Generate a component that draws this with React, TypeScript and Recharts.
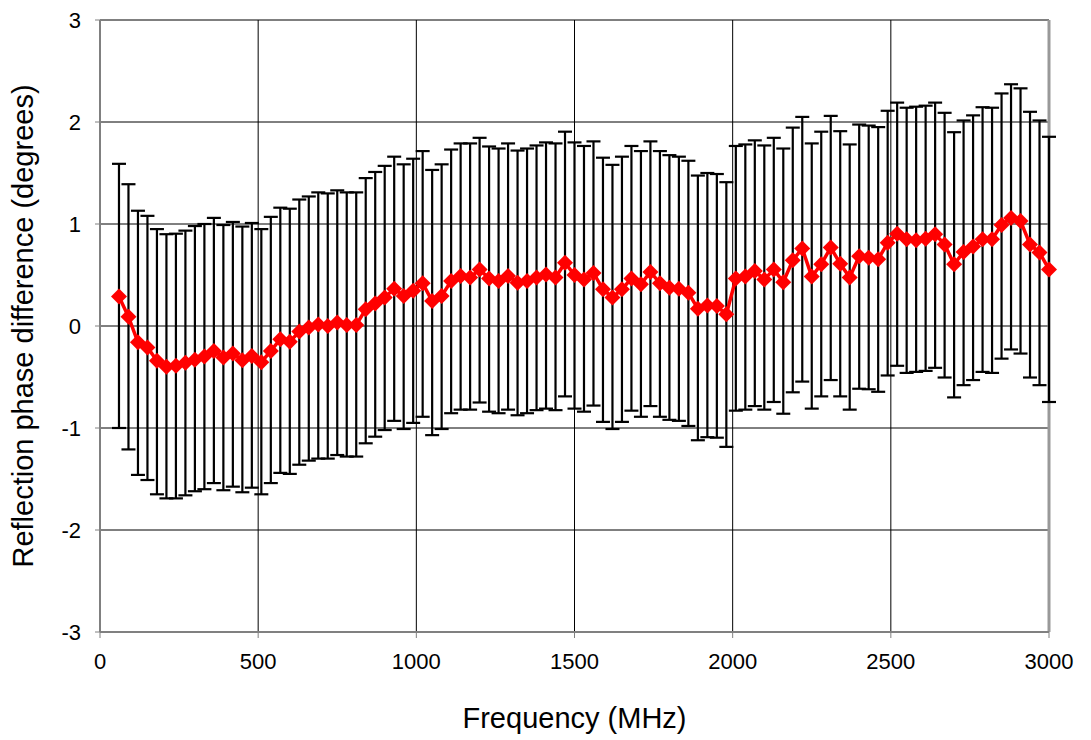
import React from 'react';
import {
  ComposedChart, Line, ErrorBar, XAxis, YAxis, CartesianGrid, ReferenceLine
} from 'recharts';

// Sweep frequencies (MHz)
const freqs = [
  60, 90, 120, 150, 180, 210, 240, 270, 300, 330,
  360, 390, 420, 450, 480, 510, 540, 570, 600, 630,
  660, 690, 720, 750, 780, 810, 840, 870, 900, 930,
  960, 990, 1020, 1050, 1080, 1110, 1140, 1170, 1200, 1230,
  1260, 1290, 1320, 1350, 1380, 1410, 1440, 1470, 1500, 1530,
  1560, 1590, 1620, 1650, 1680, 1710, 1740, 1770, 1800, 1830,
  1860, 1890, 1920, 1950, 1980, 2010, 2040, 2070, 2100, 2130,
  2160, 2190, 2220, 2250, 2280, 2310, 2340, 2370, 2400, 2430,
  2460, 2490, 2520, 2550, 2580, 2610, 2640, 2670, 2700, 2730,
  2760, 2790, 2820, 2850, 2880, 2910, 2940, 2970, 3000,
];

// Mean phase difference (degrees)
const means = [
  0.29, 0.09, -0.16, -0.21, -0.34, -0.40, -0.39, -0.36, -0.33, -0.30,
  -0.245, -0.31, -0.27, -0.335, -0.295, -0.355, -0.245, -0.13, -0.155, -0.055,
  -0.015, 0.015, 0.0, 0.035, 0.01, 0.01, 0.165, 0.22, 0.28, 0.365,
  0.295, 0.345, 0.42, 0.245, 0.295, 0.44, 0.49, 0.475, 0.555, 0.465,
  0.44, 0.49, 0.425, 0.44, 0.475, 0.505, 0.475, 0.62, 0.50, 0.455,
  0.52, 0.36, 0.28, 0.36, 0.465, 0.41, 0.53, 0.42, 0.375, 0.365,
  0.325, 0.17, 0.20, 0.195, 0.115, 0.465, 0.485, 0.54, 0.455, 0.555,
  0.43, 0.645, 0.76, 0.485, 0.605, 0.77, 0.61, 0.475, 0.685, 0.67,
  0.655, 0.815, 0.905, 0.85, 0.84, 0.855, 0.90, 0.80, 0.605, 0.725,
  0.78, 0.85, 0.85, 0.99, 1.06, 1.03, 0.80, 0.72, 0.555,
];

// Upper end of each error bar
const upper = [
  1.59, 1.39, 1.13, 1.08, 0.95, 0.90, 0.905, 0.935, 0.98, 1.00,
  1.06, 0.99, 1.02, 0.975, 1.01, 0.95, 1.07, 1.16, 1.15, 1.24,
  1.27, 1.31, 1.30, 1.33, 1.31, 1.31, 1.45, 1.51, 1.57, 1.66,
  1.585, 1.64, 1.715, 1.53, 1.585, 1.73, 1.79, 1.79, 1.845, 1.76,
  1.74, 1.79, 1.72, 1.74, 1.77, 1.80, 1.79, 1.905, 1.80, 1.765,
  1.81, 1.65, 1.58, 1.66, 1.765, 1.715, 1.81, 1.715, 1.675, 1.66,
  1.62, 1.475, 1.50, 1.49, 1.41, 1.765, 1.78, 1.82, 1.77, 1.845,
  1.74, 1.945, 2.05, 1.79, 1.905, 2.06, 1.91, 1.78, 1.975, 1.965,
  1.95, 2.11, 2.19, 2.14, 2.15, 2.16, 2.19, 2.09, 1.90, 2.015,
  2.065, 2.145, 2.14, 2.28, 2.37, 2.33, 2.10, 2.015, 1.855,
];

// Lower end of each error bar
const lower = [
  -1.00, -1.21, -1.46, -1.51, -1.65, -1.69, -1.69, -1.66, -1.62, -1.60,
  -1.54, -1.61, -1.575, -1.63, -1.585, -1.65, -1.54, -1.44, -1.45, -1.36,
  -1.32, -1.30, -1.30, -1.265, -1.28, -1.28, -1.15, -1.085, -1.02, -0.93,
  -1.01, -0.95, -0.89, -1.07, -1.01, -0.855, -0.82, -0.82, -0.75, -0.84,
  -0.855, -0.82, -0.875, -0.855, -0.825, -0.81, -0.825, -0.69, -0.81, -0.84,
  -0.78, -0.94, -1.01, -0.94, -0.83, -0.89, -0.785, -0.89, -0.92, -0.93,
  -0.98, -1.12, -1.09, -1.095, -1.185, -0.83, -0.82, -0.785, -0.82, -0.745,
  -0.86, -0.65, -0.545, -0.81, -0.69, -0.53, -0.69, -0.82, -0.615, -0.62,
  -0.645, -0.485, -0.39, -0.46, -0.45, -0.44, -0.41, -0.505, -0.70, -0.58,
  -0.53, -0.45, -0.46, -0.32, -0.23, -0.27, -0.505, -0.58, -0.745,
];

const xTicks = [0, 500, 1000, 1500, 2000, 2500, 3000];
const yTicks = [-3, -2, -1, 0, 1, 2, 3];

const FONT = '"Liberation Sans", Arial, sans-serif';
const RED = '#ff0000';

const data = freqs.map((f, i) => ({
  f,
  mean: means[i],
  err: [means[i] - lower[i], upper[i] - means[i]],
}));

function Diamond(props: any) {
  const { cx, cy } = props;
  if (cx == null || cy == null) return null;
  const r = 8;
  return (
    <path
      d={`M${cx},${cy - r}L${cx + r},${cy}L${cx},${cy + r}L${cx - r},${cy}Z`}
      fill={RED}
    />
  );
}

export default function App() {
  return (
    <div style={{ position: 'absolute', left: 0, top: 0, background: '#fff', fontFamily: FONT }}>
      <ComposedChart
        width={1091}
        height={740}
        data={data}
        margin={{ top: 20, right: 42, bottom: 0, left: 0 }}
      >
        <CartesianGrid stroke="#000" strokeWidth={1} />
        <XAxis
          dataKey="f"
          type="number"
          domain={[0, 3000]}
          ticks={xTicks}
          height={108}
          tickSize={6}
          tickMargin={15}
          axisLine={{ stroke: '#808080', strokeWidth: 2 }}
          tickLine={{ stroke: '#808080' }}
          tick={{ fill: '#000', fontSize: 22, fontFamily: FONT }}
          label={{
            value: 'Frequency (MHz)',
            position: 'insideBottom',
            offset: 12,
            style: { fill: '#000', fontSize: 29, fontFamily: FONT },
          }}
        />
        <YAxis
          type="number"
          domain={[-3, 3]}
          ticks={yTicks}
          width={100}
          tickSize={5}
          tickMargin={14}
          axisLine={{ stroke: '#808080', strokeWidth: 2 }}
          tickLine={{ stroke: '#808080' }}
          tick={{ fill: '#000', fontSize: 22, fontFamily: FONT }}
          label={{
            value: 'Reflection phase difference (degrees)',
            angle: -90,
            position: 'insideLeft',
            offset: 23,
            style: { fill: '#000', fontSize: 29, fontFamily: FONT, textAnchor: 'middle' },
          }}
        />
        <ReferenceLine x={3000} stroke="#999999" strokeWidth={3} />
        {/* error bars sit under the red trace */}
        <Line
          dataKey="mean"
          stroke="none"
          dot={false}
          activeDot={false}
          isAnimationActive={false}
        >
          <ErrorBar
            dataKey="err"
            direction="y"
            width={7}
            stroke="#000"
            strokeWidth={2.2}
            isAnimationActive={false}
          />
        </Line>
        <Line
          dataKey="mean"
          type="linear"
          stroke={RED}
          strokeWidth={3.5}
          dot={(p: any) => <Diamond key={`d-${p.index}`} {...p} />}
          activeDot={false}
          isAnimationActive={false}
        />
      </ComposedChart>
    </div>
  );
}
